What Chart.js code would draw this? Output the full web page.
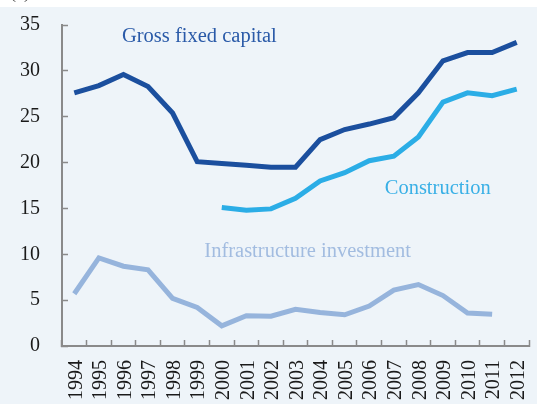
<!DOCTYPE html>
<html>
<head>
<meta charset="utf-8">
<script src="https://cdn.jsdelivr.net/npm/chart.js@4.4.1/dist/chart.umd.min.js"></script>
<style>
  html, body { margin: 0; padding: 0; background: #ffffff; }
  #wrap { position: relative; width: 537px; height: 404px; }
  canvas { display: block; }
</style>
</head>
<body>
<div id="wrap"><canvas id="c" width="537" height="404"></canvas></div>
<script>
const years = ['1994','1995','1996','1997','1998','1999','2000','2001','2002','2003','2004','2005','2006','2007','2008','2009','2010','2011','2012'];
const grossFixedCapital = [27.6, 28.4, 29.6, 28.3, 25.4, 20.1, 19.9, 19.7, 19.5, 19.5, 22.5, 23.6, 24.2, 24.9, 27.6, 31.1, 32.0, 32.0, 33.1];
const construction = [null, null, null, null, null, null, 15.1, 14.8, 14.95, 16.1, 18.0, 18.9, 20.2, 20.7, 22.8, 26.6, 27.6, 27.3, 28.0];
const infrastructure = [5.7, 9.6, 8.7, 8.3, 5.2, 4.2, 2.2, 3.3, 3.25, 4.0, 3.65, 3.4, 4.35, 6.1, 6.7, 5.5, 3.6, 3.45, null];
const yTicks = [0, 5, 10, 15, 20, 25, 30, 35];
const seriesLabels = ['Gross fixed capital', 'Construction', 'Infrastructure investment'];
const panelLabel = '(a)';

const FONT = '"Liberation Serif", "DejaVu Serif", serif';

const bgPlugin = {
  id: 'bg',
  beforeDraw(chart) {
    const ctx = chart.ctx;
    ctx.save();
    ctx.fillStyle = '#ffffff';
    ctx.fillRect(0, 0, chart.width, chart.height);
    ctx.fillStyle = '#eef4f9';
    ctx.fillRect(0, 7, chart.width, chart.height - 7);
    ctx.fillStyle = '#333333';
    ctx.font = '18px ' + FONT;
    ctx.textBaseline = 'alphabetic';
    ctx.fillText(panelLabel, 10, -2);
    ctx.restore();
  }
};

const labelPlugin = {
  id: 'seriesText',
  afterDatasetsDraw(chart) {
    const ctx = chart.ctx;
    const xs = chart.scales.x, ys = chart.scales.y;
    const items = [
      { text: seriesLabels[0], xi: 1.94, yv: 33.7, color: '#2a5aa8' },
      { text: seriesLabels[1], xi: 12.63, yv: 17.2, color: '#3ab0e6' },
      { text: seriesLabels[2], xi: 5.29, yv: 10.25, color: '#a2bce0' }
    ];
    ctx.save();
    ctx.font = '20.5px ' + FONT;
    ctx.textAlign = 'left';
    ctx.textBaseline = 'middle';
    items.forEach(it => {
      ctx.fillStyle = it.color;
      ctx.fillText(it.text, xs.getPixelForValue(it.xi), ys.getPixelForValue(it.yv));
    });
    ctx.restore();
  }
};

new Chart(document.getElementById('c'), {
  type: 'line',
  data: {
    labels: years,
    datasets: [
      { label: seriesLabels[0], data: grossFixedCapital, borderColor: '#1b4f9e', borderWidth: 5, pointRadius: 0, tension: 0, fill: false },
      { label: seriesLabels[1], data: construction, borderColor: '#2badE6', borderWidth: 5, pointRadius: 0, tension: 0, fill: false },
      { label: seriesLabels[2], data: infrastructure, borderColor: '#96b4dc', borderWidth: 5, pointRadius: 0, tension: 0, fill: false }
    ]
  },
  options: {
    responsive: false,
    animation: false,
    devicePixelRatio: 1,
    layout: { padding: { top: 25, right: 8, left: 0, bottom: 0 } },
    plugins: { legend: { display: false }, tooltip: { enabled: false } },
    scales: {
      x: {
        type: 'category',
        offset: true,
        grid: { offset: true, drawOnChartArea: false, color: 'rgba(0,0,0,0)', tickColor: '#8a8a8a', tickLength: -6, tickWidth: 1.5 },
        border: { display: true, color: '#8a8a8a', width: 2 },
        ticks: { color: '#1a1a1a', font: { family: FONT, size: 20 }, minRotation: 90, maxRotation: 90, autoSkip: false, padding: 20, labelOffset: 2 },
        afterFit(scale) { scale.height = 58; scale.paddingLeft = 0; scale.paddingRight = 0; }
      },
      y: {
        min: 0, max: 35,
        afterBuildTicks(scale) { scale.ticks = yTicks.map(v => ({ value: v })); },
        grid: { drawOnChartArea: false, color: 'rgba(0,0,0,0)', tickColor: '#8a8a8a', tickLength: -6, tickWidth: 1.5 },
        border: { display: true, color: '#8a8a8a', width: 2 },
        ticks: { color: '#1a1a1a', font: { family: FONT, size: 20 }, padding: 28 },
        afterFit(scale) { scale.width = 62; scale.paddingTop = 0; scale.paddingBottom = 0; }
      }
    }
  },
  plugins: [bgPlugin, labelPlugin]
});
</script>
</body>
</html>
